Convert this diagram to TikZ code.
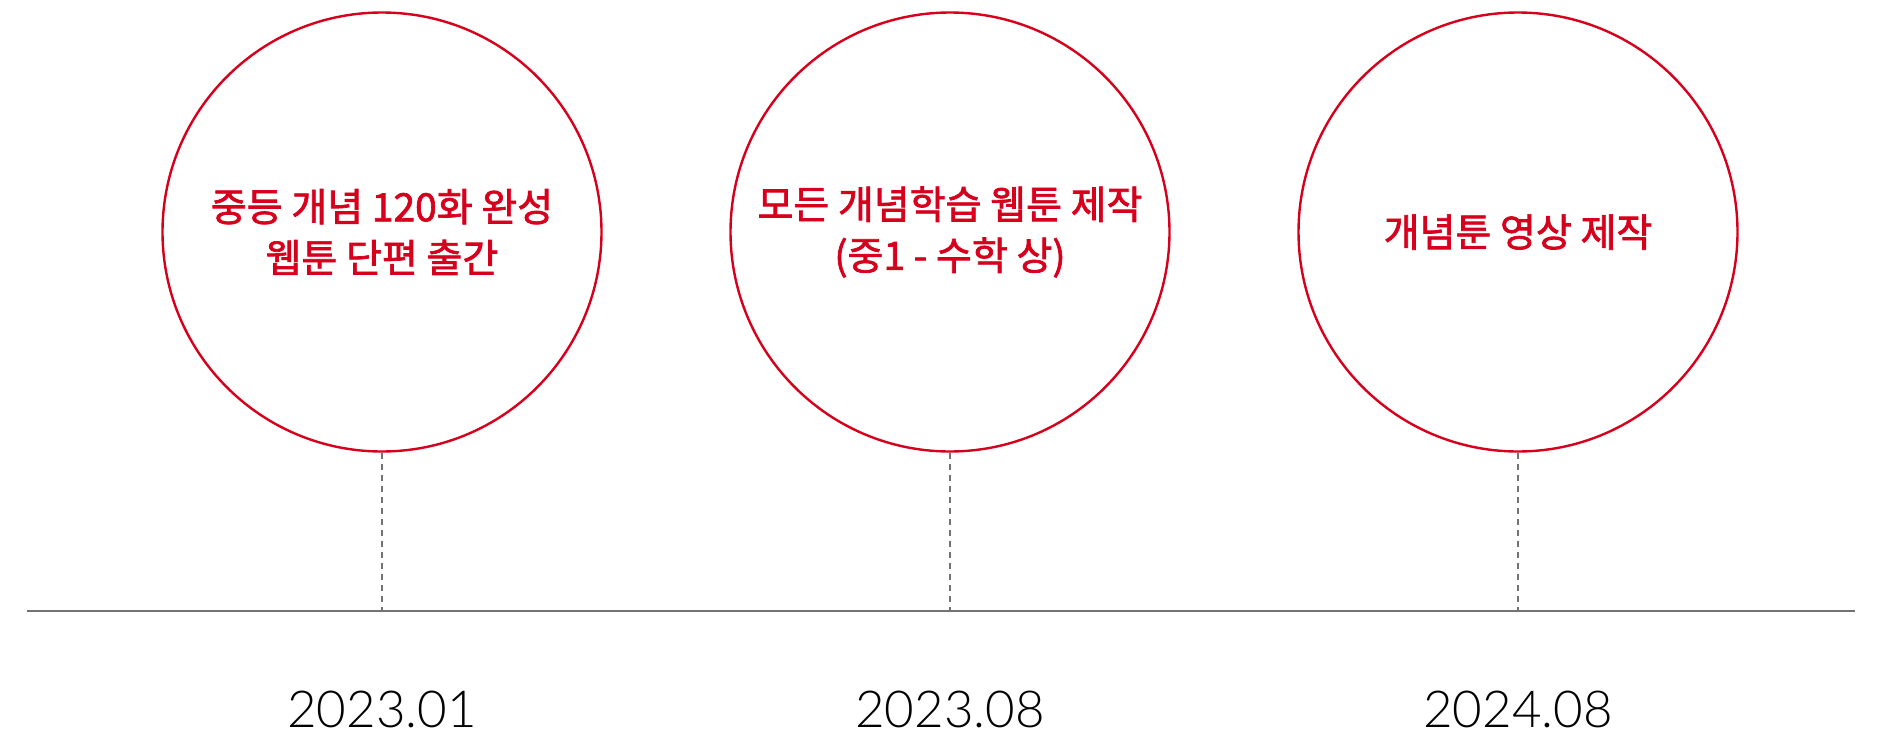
\documentclass[tikz,border=0pt]{standalone}
\usepackage{fontspec}
\newfontfamily\kr{Noto Sans CJK KR}[FakeBold=1.8]
\newfontfamily\datefont{Lato Light}
\definecolor{tred}{RGB}{214,0,28}
\definecolor{tgray}{RGB}{115,115,115}
\begin{document}
\begin{tikzpicture}[x=1pt,y=-1pt,
  event/.style={circle,draw=tred,line width=2.4pt,minimum size=439pt,inner sep=0pt,
    text=tred,align=center,font=\kr\fontsize{39}{51}\selectfont},
  datelbl/.style={anchor=base,font=\datefont\fontsize{51}{51}\selectfont,text=black},
  axis/.style={draw=tgray,line width=2.6pt},
  guide/.style={draw=tgray,line width=2.4pt,dash pattern=on 6pt off 5pt}]
\useasboundingbox (0,0) rectangle (1880,736);
\coordinate (L) at (27,611);
\coordinate (R) at (1855,611);
\draw[axis] (L) -- (R);
\node[event] (c1) at (382,232) {중등 개념 120화 완성\\웹툰 단편 출간};
\node[event] (c2) at (950,232) {모든 개념학습 웹툰 제작\\(중1 - 수학 상)};
\node[event] (c3) at (1518,232) {개념툰 영상 제작};
\coordinate (t1) at (382,611);
\coordinate (t2) at (950,611);
\coordinate (t3) at (1518,611);
\draw[guide] (c1.south) -- (t1);
\draw[guide] (c2.south) -- (t2);
\draw[guide] (c3.south) -- (t3);
\node[datelbl] (d1) at (382,727) {2023.01};
\node[datelbl] (d2) at (950,727) {2023.08};
\node[datelbl] (d3) at (1518,727) {2024.08};
\end{tikzpicture}
\end{document}
